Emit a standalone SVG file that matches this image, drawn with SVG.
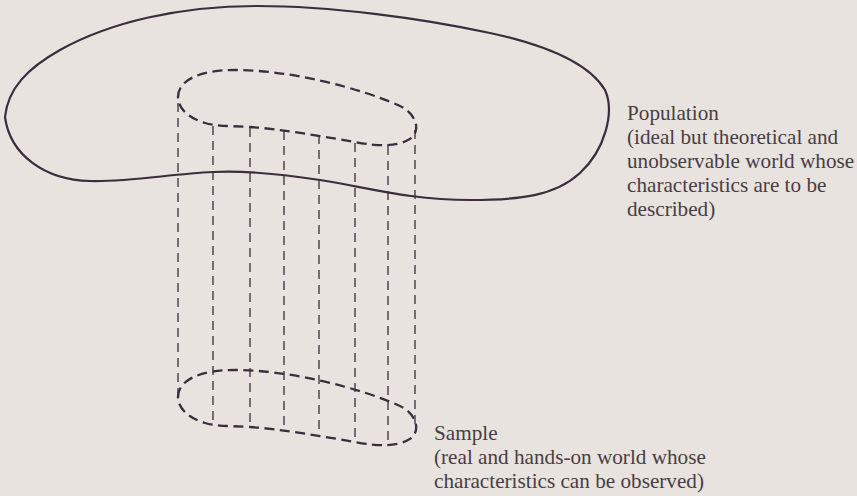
<svg xmlns="http://www.w3.org/2000/svg" width="857" height="496" viewBox="0 0 857 496">
<defs>
<style>
.bg{fill:#e8e3de}
.outline{fill:none;stroke:#3b2d3d;stroke-width:2.2;stroke-linejoin:round}
.ell{fill:none;stroke:#3b2d3d;stroke-width:2.3;stroke-dasharray:10 5.5}
.vl{fill:none;stroke:#3b2d3d;stroke-width:1.3;stroke-dasharray:9 6}
.lbl{font-family:"Liberation Serif","Times New Roman",serif;font-size:21.2px;fill:#4a3c45}
</style>
<path id="ellShape" d="M178,97 C178,80 200,70 235,70 C290,70 360,88 400,106 C420,116 420,135 408,140 C398,146 380,147 355,142 C320,136 280,129 250,127 C230,126 215,126 205,123 C188,118 178,108 178,97 Z"/>
</defs>
<rect class="bg" x="0" y="0" width="857" height="496"/>
<g id="population">
<path class="outline" d="M5,117 C8,88 28,68 60,50 C110,22 180,6 257,6 C330,6 420,18 490,33 C550,46 590,65 605,90 C615,112 605,150 580,173 C555,196 520,200 470,200 C410,200 370,188 320,180 C280,174 245,170 213,172 C170,174 130,182 90,181 C45,180 10,155 5,117 Z"/>
<text class="lbl" x="627" y="120">Population</text>
<text class="lbl" x="627" y="144">(ideal but theoretical and</text>
<text class="lbl" x="627" y="168">unobservable world whose</text>
<text class="lbl" x="627" y="192">characteristics are to be</text>
<text class="lbl" x="627" y="216">described)</text>
</g>
<g id="sample">
<use href="#ellShape" class="ell"/>
<use href="#ellShape" class="ell" transform="translate(0,300)"/>
<text class="lbl" x="434" y="440">Sample</text>
<text class="lbl" x="434" y="464">(real and hands-on world whose</text>
<text class="lbl" x="434" y="488">characteristics can be observed)</text>
</g>
<g id="connectors">
<line class="vl" x1="178" y1="103" x2="178" y2="398"/>
<line class="vl" x1="213" y1="126" x2="213" y2="424"/>
<line class="vl" x1="250" y1="128" x2="250" y2="428"/>
<line class="vl" x1="284" y1="131" x2="284" y2="431"/>
<line class="vl" x1="319" y1="135" x2="319" y2="435"/>
<line class="vl" x1="355" y1="143" x2="355" y2="442"/>
<line class="vl" x1="388" y1="146" x2="388" y2="445"/>
<line class="vl" x1="415" y1="130" x2="415" y2="425"/>
</g>
</svg>
